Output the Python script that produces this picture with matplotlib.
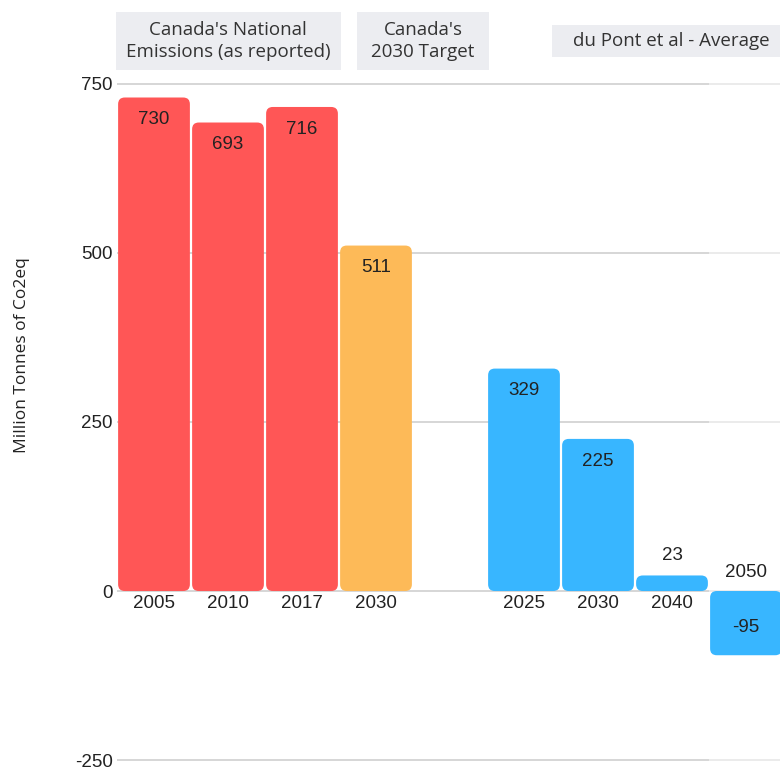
import matplotlib.pyplot as plt
from matplotlib.patches import FancyBboxPatch, Rectangle
import matplotlib.transforms as mtransforms

# datos por grupo
national_years = ['2005', '2010', '2017']
national_vals = [730, 693, 716]
target_years = ['2030']
target_vals = [511]
dupont_years = ['2025', '2030', '2040', '2050']
dupont_vals = [329, 225, 23, -95]
yticks = [-250, 0, 250, 500, 750]

red = '#FF5656'
orange = '#FDBA58'
blue = '#38B6FF'

# posiciones (hueco entre target y du Pont)
pos_nat = list(range(len(national_years)))
pos_tar = [len(national_years)]
pos_dup = [len(national_years) + 2 + i for i in range(len(dupont_years))]

fig = plt.figure(figsize=(7.8, 7.7), dpi=100)
# ejes en pixeles: x 117..783, y 80.6..763.4 (desde arriba)
ax = fig.add_axes([117/780, (770-763.4)/770, 666/780, 682.8/770])
ax.set_xlim(-0.5, 8.5)
ax.set_ylim(-255, 755)

for y in yticks:
    ax.hlines(y, -0.5, 7.5, color='#cfcfcf', lw=1.2, zorder=0)
    ax.hlines(y, 7.5, 8.5, color='#e8e8e8', lw=1.2, zorder=0)

# aspect: px por unidad x / px por unidad y
aspect = (666/9) / (682.8/1010)
r = 0.09
w = 0.97

def draw_bars(xs, vals, color):
    for x, v in zip(xs, vals):
        y0 = min(0, v)
        p = FancyBboxPatch((x - w/2, y0), w, abs(v),
                           boxstyle=f"round,pad=0,rounding_size={r}",
                           mutation_aspect=aspect, fc=color, ec='none', zorder=2)
        ax.add_patch(p)

draw_bars(pos_nat, national_vals, red)
draw_bars(pos_tar, target_vals, orange)
draw_bars(pos_dup, dupont_vals, blue)

lab_font = dict(fontsize=13.5, family='Liberation Sans', color='#222222', ha='center', va='center', zorder=3)
all_pos = pos_nat + pos_tar + pos_dup
all_vals = national_vals + target_vals + dupont_vals
all_years = national_years + target_years + dupont_years
for x, v, yr in zip(all_pos, all_vals, all_years):
    if v >= 100:
        off = -16
    elif v >= 0:
        off = 14.5
    else:
        off = 20
    ax.annotate(str(v), (x, v), xytext=(0, off), textcoords='offset points', **lab_font)
    yoff = 13 if v < 0 else -9
    ax.annotate(yr, (x, 0), xytext=(0, yoff), textcoords='offset points', **lab_font)

ax.set_xticks([])
ax.set_yticks(yticks)
ax.set_yticklabels([str(t) for t in yticks], fontsize=13.5, family='Liberation Sans', color='#222222')
ax.tick_params(axis='y', length=0, pad=3)
for s in ax.spines.values():
    s.set_visible(False)
ax.set_ylabel('Million Tonnes of Co2eq', fontsize=12.5, family='Open Sans', color='#222222')
ax.yaxis.set_label_coords(-0.13, 0.598)

# cajas de encabezado
trans = mtransforms.blended_transform_factory(ax.transData, fig.transFigure)
headers = [
    ("Canada's National\nEmissions (as reported)", -0.52, 2.53, 12, 70),
    ("Canada's\n2030 Target", 2.74, 4.53, 12, 70),
    ("du Pont et al - Average", 5.38, 8.6, 25, 57),
]
for txt, x0, x1, top, bot in headers:
    yb = (770 - bot) / 770
    h = (bot - top) / 770
    ax.add_patch(Rectangle((x0, yb), x1 - x0, h, transform=trans, fc='#ECEDF1', ec='none', clip_on=False))
    ax.text((x0 + x1) / 2, yb + h / 2, txt, transform=trans, ha='center', va='center',
            fontsize=13.5, family='Open Sans', color='#333333', linespacing=1.3, clip_on=False)

plt.savefig('out.png', dpi=100)
